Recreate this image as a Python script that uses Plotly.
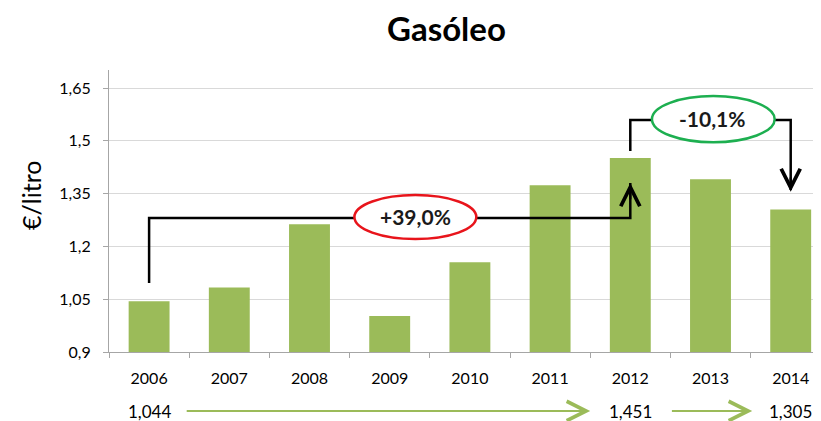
import plotly.graph_objects as go

# ── Data ──────────────────────────────────────────────────────────────────
years = ["2006", "2007", "2008", "2009", "2010", "2011", "2012", "2013", "2014"]
prices = [1.044, 1.083, 1.263, 1.002, 1.155, 1.374, 1.451, 1.391, 1.305]
y_ticks = [0.9, 1.05, 1.2, 1.35, 1.5, 1.65]
y_tick_labels = ["0,9", "1,05", "1,2", "1,35", "1,5", "1,65"]
i_start, i_peak, i_end = 0, 6, 8

GREEN = "#9BBB59"
FONT = "Lato"

# plot area in page pixels (page has an 8px body margin)
PX0, PX1, PY0, PY1 = 109, 821, 70, 352
PW, PH = PX1 - PX0, PY1 - PY0


def pt(v, nd):
    return f"{v:.{nd}f}".replace(".", ",")


def px(x):
    return (x - PX0) / PW


def py(y):
    return (PY1 - y) / PH


rise = (prices[i_peak] / prices[i_start] - 1) * 100
fall = (prices[i_end] / prices[i_peak] - 1) * 100

fig = go.Figure(go.Bar(
    x=years, y=prices,
    marker=dict(color=GREEN, line=dict(width=0)),
    width=0.51,
    hoverinfo="x+y",
))

# ── Connector lines & ellipses ────────────────────────────────────────────
line = dict(color="black", width=2.5)
y_low, y_mid1 = 1.096, 1.281
y_top, y_mid2 = 1.471, 1.559
shapes = [
    dict(type="path", xref="x", yref="y", line=line, layer="above",
         path=f"M {i_start},{y_low} L {i_start},{y_mid1} L {i_peak},{y_mid1} L {i_peak},1.38"),
    dict(type="path", xref="x", yref="y", line=line, layer="above",
         path=f"M {i_peak},{y_top} L {i_peak},{y_mid2} L {i_end},{y_mid2} L {i_end},1.36"),
    dict(type="circle", xref="x", yref="y", layer="above",
         x0=2.56, x1=4.08, y0=1.221, y1=1.346,
         line=dict(color="#E8141B", width=2.5), fillcolor="white"),
    dict(type="circle", xref="x", yref="y", layer="above",
         x0=6.27, x1=7.80, y0=1.496, y1=1.627,
         line=dict(color="#1DAF50", width=2.5), fillcolor="white"),
]

annotations = [
    # arrow heads of the connectors
    dict(x=i_peak, y=1.380, xref="x", yref="y", ax=i_peak, ay=1.33,
         axref="x", ayref="y", text="", showarrow=True,
         arrowhead=5, arrowsize=1.7, arrowwidth=2.2, arrowcolor="black"),
    dict(x=i_end, y=1.355, xref="x", yref="y", ax=i_end, ay=1.40,
         axref="x", ayref="y", text="", showarrow=True,
         arrowhead=5, arrowsize=1.7, arrowwidth=2.2, arrowcolor="black"),
    # percentage labels
    dict(x=3.32, y=1.284, xref="x", yref="y", showarrow=False,
         text=f"<b>{'+' if rise >= 0 else ''}{pt(rise, 1)}%</b>",
         font=dict(family=FONT, size=21, color="#1a1a1a")),
    dict(x=7.03, y=1.562, xref="x", yref="y", showarrow=False,
         text=f"<b>{pt(fall, 1)}%</b>",
         font=dict(family=FONT, size=21, color="#1a1a1a")),
    # title and y axis title
    dict(x=px(446), y=py(28), xref="paper", yref="paper", text="<b>Gasóleo</b>",
         xanchor="center", yanchor="middle", showarrow=False,
         font=dict(family=FONT, size=33, color="black")),
    dict(x=px(31), y=py(196), xref="paper", yref="paper", text="€/litro",
         xanchor="center", yanchor="middle", textangle=-90, showarrow=False,
         font=dict(family=FONT, size=25, color="black")),
]

# bottom row of values with green arrows
y_row = py(411)
for i in (i_start, i_peak, i_end):
    annotations.append(dict(x=i, y=y_row, xref="x", yref="paper", showarrow=False,
                            xanchor="center", yanchor="middle",
                            text=pt(prices[i], 3),
                            font=dict(family=FONT, size=17, color="black")))
for a, b in ((0.45, 5.5), (6.5, 7.52)):
    annotations.append(dict(x=b, y=y_row, xref="x", yref="paper", ax=a, ay=0,
                            axref="x", ayref="pixel", text="", showarrow=True,
                            arrowhead=5, arrowsize=1.9, arrowwidth=2, arrowcolor=GREEN))

fig.update_layout(
    width=821 - 8, height=421 - 8,
    margin=dict(l=PX0 - 8, r=0, t=PY0 - 8, b=421 - PY1),
    plot_bgcolor="white", paper_bgcolor="white",
    showlegend=False,
    font=dict(family=FONT, size=14, color="black"),
    xaxis=dict(
        type="category", range=[-0.5, -0.5 + PW / 80.2],
        showline=True, linecolor="#A6A6A6", linewidth=1,
        ticks="outside", tickson="boundaries", ticklen=5, tickcolor="#A6A6A6",
        ticklabelstandoff=12,
        showgrid=False, tickfont=dict(family=FONT, size=16, color="black"),
    ),
    yaxis=dict(
        range=[0.9, 0.9 + PH / 352], tickvals=y_ticks, ticktext=y_tick_labels,
        showline=True, linecolor="#A6A6A6", linewidth=1,
        ticks="outside", ticklen=5, tickcolor="#A6A6A6",
        ticklabelstandoff=9,
        showgrid=True, gridcolor="#D9D9D9", gridwidth=1, zeroline=False,
        tickfont=dict(family=FONT, size=16, color="black"),
    ),
    shapes=shapes,
    annotations=annotations,
)

fig.write_html("out.html")
